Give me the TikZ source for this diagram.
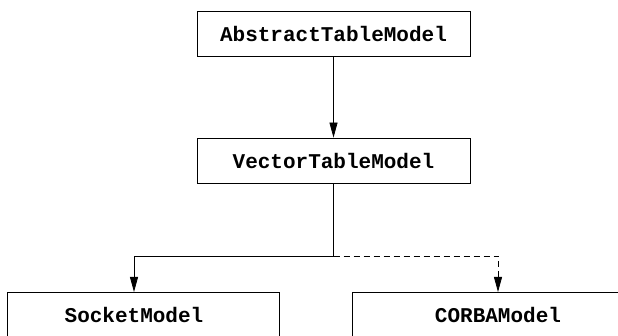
\documentclass[tikz,border=0pt]{standalone}
\usepackage{fontspec}
\setmonofont{Liberation Mono}
\usetikzlibrary{arrows.meta}

\begin{document}
\begin{tikzpicture}[x=1pt,y=-1pt,
  model/.style={draw,line width=0.8pt,minimum width=273pt,minimum height=45pt,
    font=\fontsize{21}{25}\selectfont\ttfamily\bfseries},
  leaf/.style={draw,line width=0.8pt,minimum height=70pt,anchor=north west},
  leafname/.style={inner sep=0pt,font=\fontsize{21}{25}\selectfont\ttfamily\bfseries},
  flow/.style={line width=0.8pt,-{Triangle[length=15pt,width=8pt]}}]
\useasboundingbox (0,0) rectangle (618,336);
\clip (0,0) rectangle (618,336);
\node [model] (abstract) at (333.5,33.5) {AbstractTableModel};
\node [model] (vector) at (333.5,160.5) {VectorTableModel};
\node [leaf,minimum width=272pt] (socket) at (7,292) {};
\node [leaf,minimum width=290pt] (corba) at (352,292) {};
\node [leafname] (socketname) at (134,314.5) {SocketModel};
\node [leafname] (corbaname) at (498,314.5) {CORBAModel};
\coordinate (split) at (333.5,256); % branch point under VectorTableModel
\draw [flow] (abstract) -- (vector);
\draw [line width=0.8pt] (vector) -- (split);
\draw [flow] (split) -| (socketname |- socket.north);
\draw [flow,dash pattern=on 6pt off 4pt] (split) -| (corbaname |- corba.north);
\end{tikzpicture}
\end{document}
